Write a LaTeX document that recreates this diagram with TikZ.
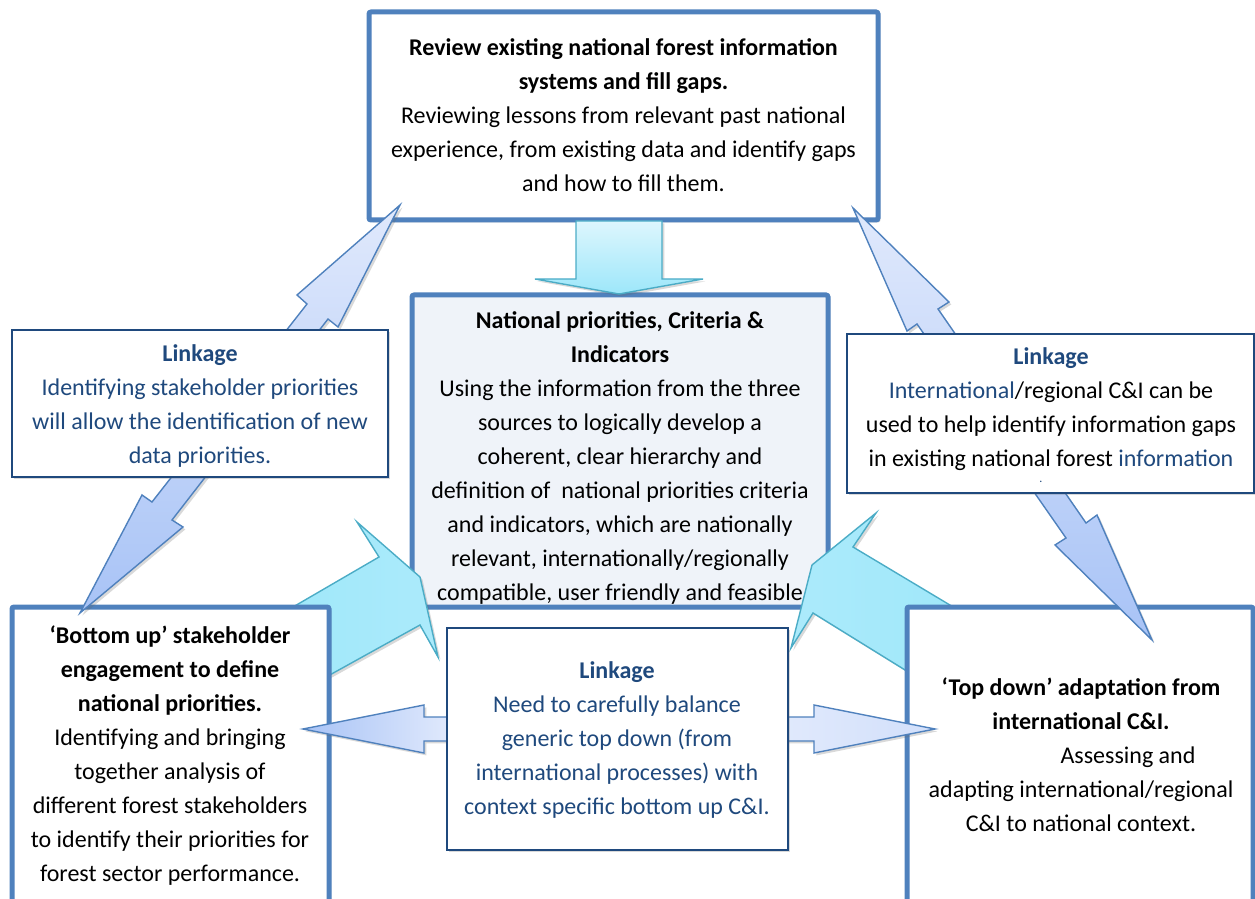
\documentclass[tikz,border=0pt]{standalone}
\usepackage{fontspec}
\setmainfont{Carlito}
\usetikzlibrary{fit,shadows}
\definecolor{boxblue}{HTML}{4F81BD}
\definecolor{linkblue}{HTML}{1F497D}
\definecolor{linktext}{HTML}{1F497D}
\definecolor{centerfill}{HTML}{EFF3F9}
\definecolor{cyanedge}{HTML}{4BACC6}
\definecolor{cyanfill}{HTML}{9DE7FA}
\definecolor{cyanlight}{HTML}{DDF6FD}
\definecolor{bluelight}{HTML}{E0E9FC}
\definecolor{bluedark}{HTML}{A8C3F6}
\definecolor{arrowedge}{HTML}{4F81BD}
\begin{document}
\begin{tikzpicture}[x=0.5pt,y=-0.5pt,
  shadowed/.style={drop shadow={shadow xshift=1.2pt,shadow yshift=-1.2pt,opacity=0.25,fill=black!60}},
  bigbox/.style={draw=boxblue,line width=2.5pt,fill=white,rounded corners=1pt,inner sep=0pt,shadowed},
  linkbox/.style={draw=linkblue,line width=1pt,fill=white,inner sep=0pt,shadowed},
  txt/.style={align=center,font=\fontsize{12}{17}\selectfont,inner sep=0pt},
  cyanarrow/.style={draw=cyanedge,line width=0.7pt,line join=miter,shadowed},
  bluearrow/.style={draw=arrowedge,line width=0.7pt,line join=miter,shadowed}]
\useasboundingbox (0,0) rectangle (1255,899);
\clip (0,0) rectangle (1255,899);

% top box
\node[bigbox,fit={(369,12) (878,220)}] (topbox) {};
\node[txt] (toptext) at (623.5,115) {\textbf{Review existing national forest information}\\
\textbf{systems and fill gaps.}\\
Reviewing lessons from relevant past national\\
experience, from existing data and identify gaps\\
and how to fill them.};

% centre box
\node[bigbox,fill=centerfill,fit={(412,295) (828,607)}] (centerbox) {};
\node[txt] (centertext) at (620,458) {\textbf{National priorities, Criteria \&}\\
\textbf{Indicators}\\
Using the information from the three\\
sources to logically develop a\\
coherent, clear hierarchy and\\
definition of \ national priorities criteria\\
and indicators, which are nationally\\
relevant, internationally/regionally\\
compatible, user friendly and feasible};

% down arrow
\path[cyanarrow,top color=cyanlight,bottom color=cyanfill]
  (576,221) -- (662,221) -- (662,279) -- (703,279) -- (619,294) -- (535,279) -- (576,279) -- cycle;

% bent cyan arrows into the centre box
\path[cyanarrow,left color=cyanfill,right color=cyanfill!85!white]
  (250,632) -- (379,557) -- (357,522) -- (420,577) -- (438,657) -- (420,625) -- (290,697) -- cycle;
\path[cyanarrow,left color=cyanfill!85!white,right color=cyanfill]
  (1000,635) -- (853,547) -- (876,513) -- (812,565) -- (791,648) -- (813,613) -- (960,704) -- cycle;

% bottom boxes
\node[bigbox,fit={(12,607) (329,910)}] (blbox) {};
\node[txt] (bltext) at (170,756) {\textbf{‘Bottom up’ stakeholder}\\
\textbf{engagement to define}\\
\textbf{national priorities.}\\
Identifying and bringing\\
together analysis of\\
different forest stakeholders\\
to identify their priorities for\\
forest sector performance.};

\node[bigbox,fit={(907,607) (1253,910)}] (brbox) {};
\node[txt] (brtext) at (1081,755) {\textbf{‘Top down’ adaptation from}\\
\textbf{international C\&I.}\\
\hspace*{47pt}Assessing and\\
adapting international/regional\\
C\&I to national context.};

% diagonal double arrows
\path[bluearrow,top color=bluelight,bottom color=bluedark]
  (400,205) -- (338,327) -- (328,319) -- (172,520) -- (183,527) -- (80,613)
  -- (142,495) -- (152,502) -- (307,304) -- (297,295) -- cycle;
\path[bluearrow,top color=bluelight,bottom color=bluedark]
  (853,208) -- (949,302) -- (938,309) -- (1086,523) -- (1097,515) -- (1152,640)
  -- (1055,545) -- (1066,538) -- (917,324) -- (907,331) -- cycle;

% horizontal double arrows
\path[bluearrow,left color=bluedark,right color=bluelight]
  (450,717) -- (424,717) -- (424,705) -- (303,729) -- (424,753) -- (424,741) -- (450,741) -- cycle;
\path[bluearrow,left color=bluelight,right color=bluelight!75!bluedark]
  (785,717) -- (814,717) -- (814,705) -- (935,729) -- (814,753) -- (814,741) -- (785,741) -- cycle;

% linkage boxes
\node[linkbox,fit={(12,330) (388,477)}] (leftlink) {};
\node[txt,text=linktext] (leftlinktext) at (200,406) {\textbf{Linkage}\\
Identifying stakeholder priorities\\
will allow the identification of new\\
data priorities.};

\node[linkbox,fit={(847,334) (1254,493)}] (rightlink) {};
\node[txt] (rightlinktext) at (1051,409) {\textcolor{linktext}{\textbf{Linkage}}\\
\textcolor{linktext}{International}/regional C\&I can be\\
used to help identify information gaps\\
in existing national forest \textcolor{linktext}{information}};
\node[inner sep=0pt,text=linktext,font=\fontsize{6}{6}\selectfont] (rightdot) at (1041,482) {.};

\node[linkbox,fit={(447,628) (788,850)}] (midlink) {};
\node[txt,text=linktext] (midlinktext) at (617,740) {\textbf{Linkage}\\
Need to carefully balance\\
generic top down (from\\
international processes) with\\
context specific bottom up C\&I.};
\end{tikzpicture}
\end{document}
